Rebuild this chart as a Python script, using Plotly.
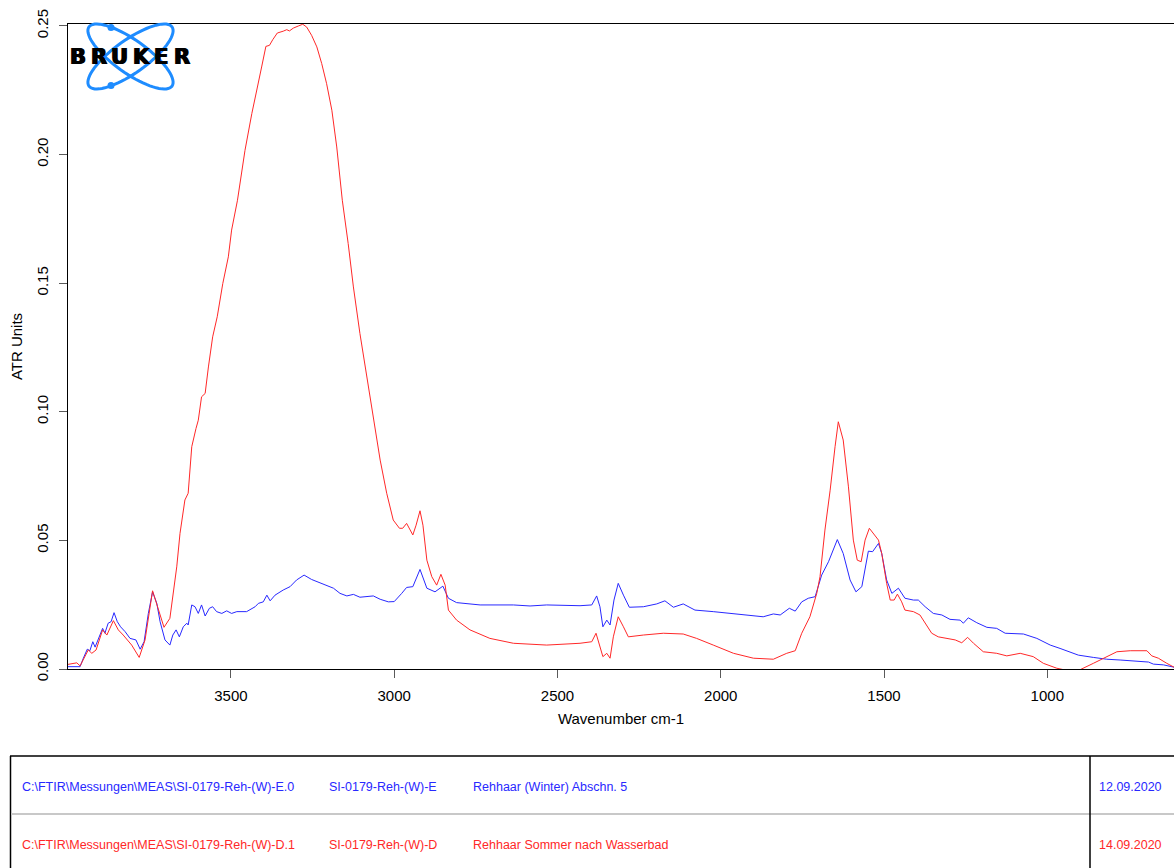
import math
import plotly.graph_objects as go

# ---------------- data ----------------
red_wn = [3999, 3972, 3962, 3947, 3937, 3926, 3913, 3893, 3880, 3860,
          3845, 3830, 3804, 3781, 3763, 3740, 3722, 3705, 3687, 3676,
          3666, 3656, 3641, 3631, 3620, 3607, 3600, 3590, 3579, 3569,
          3556, 3542, 3525, 3508, 3498, 3480, 3457, 3436, 3421, 3406,
          3393, 3382, 3372, 3358, 3340, 3329, 3321, 3309, 3294, 3280,
          3268, 3253, 3237, 3222, 3207, 3191, 3176, 3159, 3141, 3125,
          3105, 3079, 3059, 3043, 3023, 3003, 2984, 2974, 2962, 2943,
          2933, 2921, 2912, 2900, 2885, 2870, 2857, 2844, 2834, 2809,
          2768, 2707, 2635, 2533, 2431, 2395, 2382, 2372, 2361, 2349,
          2339, 2329, 2314, 2298, 2283, 2237, 2176, 2115, 2074, 2023,
          1961, 1900, 1839, 1798, 1772, 1752, 1727, 1706, 1696, 1681,
          1665, 1650, 1640, 1625, 1609, 1594, 1582, 1570, 1558, 1545,
          1533, 1517, 1507, 1492, 1481, 1469, 1459, 1446, 1436, 1410,
          1390, 1374, 1354, 1334, 1308, 1282, 1262, 1244, 1226, 1196,
          1155, 1124, 1083, 1043, 1012, 971, 930, 900, 859, 808,
          787, 746, 695, 680, 660, 634, 612]
red_val = [0.0018, 0.0024, 0.0012, 0.0048, 0.0074, 0.0061, 0.0074, 0.0152, 0.0132, 0.0188,
           0.0152, 0.0132, 0.0093, 0.0045, 0.0113, 0.0304, 0.0229, 0.0162, 0.0197, 0.0294,
           0.0397, 0.0527, 0.0657, 0.0683, 0.0864, 0.0935, 0.0967, 0.1058, 0.1071, 0.1174,
           0.1291, 0.1369, 0.1498, 0.1602, 0.1706, 0.1822, 0.2016, 0.2159, 0.2243, 0.2340,
           0.2420, 0.2424, 0.2446, 0.2472, 0.2479, 0.2485, 0.2480, 0.2491, 0.2499, 0.2506,
           0.2495, 0.2463, 0.2418, 0.2353, 0.2275, 0.2172, 0.2029, 0.1822, 0.1654, 0.1485,
           0.1304, 0.1097, 0.0941, 0.0812, 0.0683, 0.0579, 0.0547, 0.0547, 0.0566, 0.0521,
           0.0559, 0.0615, 0.0559, 0.0423, 0.0359, 0.0326, 0.0368, 0.0326, 0.0229, 0.0190,
           0.0152, 0.0119, 0.0100, 0.0093, 0.0100, 0.0106, 0.0139, 0.0100, 0.0048, 0.0061,
           0.0042, 0.0125, 0.0203, 0.0164, 0.0125, 0.0132, 0.0139, 0.0136, 0.0119, 0.0093,
           0.0061, 0.0042, 0.0038, 0.0061, 0.0071, 0.0139, 0.0203, 0.0294, 0.0359, 0.0540,
           0.0695, 0.0864, 0.0961, 0.0890, 0.0708, 0.0501, 0.0423, 0.0417, 0.0501, 0.0547,
           0.0527, 0.0501, 0.0449, 0.0333, 0.0268, 0.0268, 0.0291, 0.0261, 0.0229, 0.0223,
           0.0210, 0.0178, 0.0139, 0.0125, 0.0119, 0.0113, 0.0102, 0.0123, 0.0100, 0.0067,
           0.0061, 0.0051, 0.0061, 0.0048, 0.0022, 0.0003, -0.0008, -0.0003, 0.0022, 0.0054,
           0.0067, 0.0071, 0.0071, 0.0051, 0.0042, 0.0022, 0.0007]

blue_wn = [3999, 3962, 3952, 3940, 3932, 3923, 3916, 3906, 3893, 3886,
           3876, 3867, 3858, 3848, 3838, 3824, 3809, 3791, 3778, 3766,
           3753, 3740, 3727, 3717, 3702, 3687, 3678, 3668, 3658, 3646,
           3635, 3631, 3620, 3610, 3600, 3590, 3579, 3566, 3556, 3544,
           3528, 3513, 3498, 3482, 3452, 3426, 3416, 3401, 3390, 3380,
           3365, 3340, 3319, 3299, 3276, 3253, 3217, 3186, 3166, 3145,
           3125, 3105, 3064, 3043, 3018, 3000, 2977, 2962, 2943, 2921,
           2900, 2875, 2851, 2834, 2809, 2737, 2635, 2584, 2533, 2431,
           2395, 2380, 2370, 2361, 2349, 2339, 2327, 2314, 2298, 2280,
           2237, 2196, 2171, 2145, 2115, 2079, 2023, 1972, 1920, 1870,
           1839, 1818, 1790, 1772, 1752, 1732, 1711, 1691, 1670, 1643,
           1625, 1604, 1586, 1568, 1548, 1535, 1517, 1507, 1492, 1476,
           1456, 1436, 1410, 1395, 1374, 1349, 1323, 1298, 1267, 1257,
           1242, 1216, 1185, 1155, 1129, 1073, 1032, 991, 961, 905,
           859, 818, 777, 726, 690, 675, 644, 612]
blue_val = [0.0009, 0.0009, 0.0042, 0.0077, 0.0071, 0.0106, 0.0085, 0.0119, 0.0158, 0.0139,
            0.0178, 0.0184, 0.0219, 0.0184, 0.0164, 0.0145, 0.0119, 0.0113, 0.0077, 0.0106,
            0.0216, 0.0300, 0.0255, 0.0184, 0.0113, 0.0093, 0.0132, 0.0152, 0.0125, 0.0164,
            0.0178, 0.0171, 0.0249, 0.0242, 0.0216, 0.0249, 0.0206, 0.0236, 0.0242, 0.0223,
            0.0216, 0.0226, 0.0216, 0.0223, 0.0223, 0.0242, 0.0255, 0.0261, 0.0287, 0.0265,
            0.0287, 0.0307, 0.0320, 0.0346, 0.0365, 0.0348, 0.0330, 0.0314, 0.0294, 0.0284,
            0.0290, 0.0279, 0.0284, 0.0271, 0.0261, 0.0262, 0.0294, 0.0317, 0.0320, 0.0387,
            0.0314, 0.0300, 0.0322, 0.0275, 0.0258, 0.0249, 0.0249, 0.0245, 0.0249, 0.0246,
            0.0249, 0.0284, 0.0242, 0.0164, 0.0190, 0.0171, 0.0268, 0.0333, 0.0287, 0.0240,
            0.0242, 0.0253, 0.0265, 0.0240, 0.0253, 0.0229, 0.0223, 0.0216, 0.0210, 0.0203,
            0.0214, 0.0210, 0.0236, 0.0225, 0.0261, 0.0275, 0.0281, 0.0365, 0.0417, 0.0503,
            0.0449, 0.0346, 0.0300, 0.0320, 0.0458, 0.0456, 0.0488, 0.0449, 0.0346, 0.0294,
            0.0314, 0.0275, 0.0268, 0.0268, 0.0242, 0.0216, 0.0210, 0.0193, 0.0190, 0.0178,
            0.0199, 0.0180, 0.0162, 0.0158, 0.0139, 0.0136, 0.0119, 0.0093, 0.0080, 0.0054,
            0.0045, 0.0038, 0.0035, 0.0031, 0.0027, 0.0019, 0.0016, 0.0007]

x_ticks = [3500, 3000, 2500, 2000, 1500, 1000]
y_ticks = [0.00, 0.05, 0.10, 0.15, 0.20, 0.25]

rows_path = [r"C:\FTIR\Messungen\MEAS\SI-0179-Reh-(W)-E.0",
             r"C:\FTIR\Messungen\MEAS\SI-0179-Reh-(W)-D.1"]
rows_name = ["SI-0179-Reh-(W)-E", "SI-0179-Reh-(W)-D"]
rows_desc = ["Rehhaar (Winter) Abschn. 5", "Rehhaar Sommer nach Wasserbad"]
rows_date = ["12.09.2020", "14.09.2020"]
row_colors = ["rgb(40,40,255)", "rgb(255,40,40)"]

# ---------------- layout geometry ----------------
W, H = 1174, 868
ML, MR, MT, MB = 68, 0, 24, 199
PW = W - ML - MR
PH = H - MT - MB
FONT = "Liberation Sans, Arial, sans-serif"


def px(x):
    return (x - ML) / PW


def py(y):
    return (H - MB - y) / PH


fig = go.Figure()
fig.add_trace(go.Scatter(x=blue_wn, y=blue_val, mode="lines",
                         line=dict(color="rgb(40,40,255)", width=1), hoverinfo="skip"))
fig.add_trace(go.Scatter(x=red_wn, y=red_val, mode="lines",
                         line=dict(color="rgb(255,40,40)", width=1), hoverinfo="skip"))

shapes = []
annotations = []

# table lines
shapes.append(dict(type="line", xref="paper", yref="paper", x0=px(10), x1=px(1180),
                   y0=py(756), y1=py(756), line=dict(color="black", width=1.5)))
shapes.append(dict(type="line", xref="paper", yref="paper", x0=px(10.5), x1=px(10.5),
                   y0=py(756), y1=py(870), line=dict(color="black", width=1.5)))
shapes.append(dict(type="line", xref="paper", yref="paper", x0=px(11), x1=px(1180),
                   y0=py(814), y1=py(814), line=dict(color="rgb(200,200,200)", width=2)))
shapes.append(dict(type="line", xref="paper", yref="paper", x0=px(1090), x1=px(1090),
                   y0=py(756), y1=py(870), line=dict(color="black", width=1.5)))

row_y = [787, 845]
for i in range(2):
    for xpos, txt in [(20, rows_path[i]), (327, rows_name[i]), (471, rows_desc[i]), (1097, rows_date[i])]:
        annotations.append(dict(xref="paper", yref="paper", x=px(xpos), y=py(row_y[i]),
                                text=txt, showarrow=False, xanchor="left", yanchor="middle",
                                font=dict(family=FONT, size=12.5, color=row_colors[i])))

# logo: two crossed orbits, two dots, BRUKER text
cx, cy, a, b = 130.5, 56.5, 51, 16.5
for th in (35.5, -35.5):
    t = math.radians(th)
    pts = []
    for k in range(73):
        s = 2 * math.pi * k / 72
        ex = cx + a * math.cos(s) * math.cos(t) - b * math.sin(s) * math.sin(t)
        ey = cy + a * math.cos(s) * math.sin(t) + b * math.sin(s) * math.cos(t)
        pts.append((px(ex), py(ey)))
    path = "M " + " L ".join(f"{u:.5f},{v:.5f}" for u, v in pts) + " Z"
    shapes.append(dict(type="path", xref="paper", yref="paper", path=path,
                       line=dict(color="rgb(30,140,255)", width=3)))
for (dx, dy) in [(111, 27.5), (111, 85.5)]:
    shapes.append(dict(type="circle", xref="paper", yref="paper",
                       x0=px(dx - 3.5), x1=px(dx + 3.5), y0=py(dy - 3.5), y1=py(dy + 3.5),
                       fillcolor="rgb(30,140,255)", line=dict(color="rgb(30,140,255)", width=0)))
letters = ["B", "R", "U", "K", "E", "R"]
lx = [77.5, 98.5, 119.5, 141, 161, 181.5]
for L, xx in zip(letters, lx):
    annotations.append(dict(xref="paper", yref="paper", x=px(xx), y=py(57), text=f"<b>{L}</b>",
                            showarrow=False, xanchor="center", yanchor="middle",
                            font=dict(family="DejaVu Sans, Arial Black, sans-serif", size=21, color="black",
                                      shadow="0.7px 0px 0px black, -0.7px 0px 0px black")))

fig.update_layout(
    width=W, height=H,
    margin=dict(l=ML, r=MR, t=MT, b=MB, pad=0),
    paper_bgcolor="white", plot_bgcolor="white",
    showlegend=False,
    font=dict(family=FONT, size=15, color="black"),
    shapes=shapes, annotations=annotations,
    hovermode=False,
)
fig.update_xaxes(range=[3999, 612], tickvals=x_ticks, ticktext=[str(v) for v in x_ticks],
                 showgrid=False, zeroline=False, showline=True, linecolor="black", linewidth=1,
                 mirror=True, ticks="outside", ticklen=8, tickcolor="rgb(90,90,90)",
                 ticklabelstandoff=5,
                 tickfont=dict(size=15), title=dict(text="Wavenumber cm-1", font=dict(size=15), standoff=10))
fig.update_yaxes(range=[0, 0.2507], tickvals=y_ticks, ticktext=[f"{v:.2f}" for v in y_ticks],
                 tickangle=-90, showgrid=False, zeroline=False, showline=True, linecolor="black",
                 linewidth=1, ticks="outside", ticklen=8, tickcolor="rgb(90,90,90)",
                 ticklabelstandoff=5,
                 tickfont=dict(size=15), title=dict(text="ATR Units", font=dict(size=15), standoff=7))

fig.write_html("out.html", config={"displayModeBar": False},
               post_script="document.body.style.margin='0px';document.body.style.overflow='hidden';")
